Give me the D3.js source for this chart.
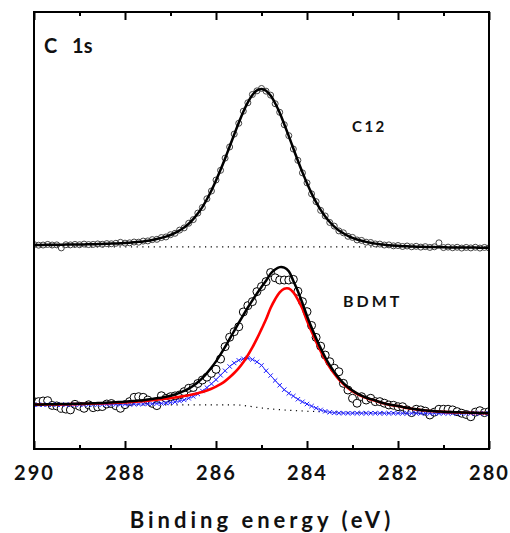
<!DOCTYPE html>
<html><head><meta charset="utf-8">
<script src="https://cdn.jsdelivr.net/npm/d3@7"></script>
<style>
body{margin:0;background:#fff}
text{font-family:Lato,"Open Sans",sans-serif;font-weight:700;fill:#111}
</style>
</head><body><svg id="c" width="510" height="533"></svg>
<script>
// Binding energy grid (eV), 0.1 eV steps
const energy = [290.0,289.9,289.8,289.7,289.6,289.5,289.4,289.3,289.2,289.1,
289.0,288.9,288.8,288.7,288.6,288.5,288.4,288.3,288.2,288.1,
288.0,287.9,287.8,287.7,287.6,287.5,287.4,287.3,287.2,287.1,
287.0,286.9,286.8,286.7,286.6,286.5,286.4,286.3,286.2,286.1,
286.0,285.9,285.8,285.7,285.6,285.5,285.4,285.3,285.2,285.1,
285.0,284.9,284.8,284.7,284.6,284.5,284.4,284.3,284.2,284.1,
284.0,283.9,283.8,283.7,283.6,283.5,283.4,283.3,283.2,283.1,
283.0,282.9,282.8,282.7,282.6,282.5,282.4,282.3,282.2,282.1,
282.0,281.9,281.8,281.7,281.6,281.5,281.4,281.3,281.2,281.1,
281.0,280.9,280.8,280.7,280.6,280.5,280.4,280.3,280.2,280.1,280.0];

// C12 spectrum (upper, offset) - measured points and fit
const c12Data = [0.9,0.5,0.6,1.0,0.6,0.7,-1.2,0.8,0.7,1.0,
0.8,1.2,0.9,1.0,1.3,1.1,1.5,1.4,1.7,2.3,
1.8,2.0,2.5,2.4,3.1,3.2,4.0,4.2,5.3,5.7,
7.1,8.0,10.0,11.4,14.3,16.6,20.7,24.2,29.7,34.6,
41.5,47.6,55.3,62.3,70.4,77.2,84.8,90.1,95.3,97.6,
99.1,97.4,94.9,89.5,84.1,76.3,69.4,61.0,53.9,46.0,
39.7,32.8,27.9,22.4,18.9,14.8,12.5,9.5,8.3,6.1,
5.4,3.8,3.5,2.4,2.2,1.3,1.2,0.6,0.7,0.1,
0.3,-0.3,0.0,-0.5,-0.2,-0.7,-0.4,-0.9,-0.5,2.0,
-1.0,-0.7,-1.1,-0.8,-1.3,-0.9,-1.2,-0.8,-1.3,-0.9,-1.2];
const c12Fit = [0.7,0.7,0.7,0.8,0.8,0.8,0.8,0.9,0.9,0.9,
1.0,1.0,1.1,1.1,1.2,1.3,1.4,1.5,1.6,1.7,
1.9,2.1,2.3,2.6,2.9,3.3,3.8,4.4,5.1,5.9,
6.9,8.2,9.8,11.6,14.0,16.9,20.4,24.5,29.4,34.9,
41.2,47.9,55.0,62.6,70.1,77.5,84.5,90.4,95.0,97.9,
98.8,97.7,94.6,89.8,83.8,76.6,69.1,61.3,53.6,46.3,
39.4,33.1,27.6,22.7,18.6,15.1,12.2,9.8,8.0,6.4,
5.1,4.1,3.3,2.6,2.0,1.5,1.1,0.8,0.5,0.3,
0.1,-0.1,-0.2,-0.3,-0.4,-0.5,-0.6,-0.7,-0.7,-0.8,
-0.8,-0.9,-0.9,-0.9,-1.0,-1.0,-1.0,-1.0,-1.1,-1.1,-1.1];
const c12BaseE = [290, 280];
const c12BaseV = [-0.6, -0.6];
const c12Offset = 100;

// BDMT spectrum (lower) - measured points, total fit, two components
const bdmtData = [2.1,2.1,2.5,2.7,-0.3,-0.6,-2.1,-2.6,-3.1,0.4,
-0.8,-2.1,0.1,-1.7,-1.2,-1.0,0.6,0.9,-0.5,-2.1,
0.2,2.1,4.8,5.2,4.8,3.1,1.0,-0.4,5.8,4.2,
5.2,5.7,6.3,8.4,10.5,11.0,13.5,15.7,17.5,19.9,
22.4,28.9,36.7,42.6,46.1,49.2,58.5,62.5,65.0,71.3,
74.5,77.6,83.3,80.0,78.6,78.6,78.6,79.0,71.5,65.0,
58.7,50.0,42.5,37.0,31.4,27.2,23.1,20.9,13.6,9.4,
4.2,1.1,5.2,3.1,4.2,2.1,2.1,1.1,0.0,-0.2,
-1.1,-1.1,-3.1,-4.8,-2.7,-3.1,-3.9,-6.3,-4.5,-2.7,
-2.7,-2.7,-3.1,-4.2,-5.2,-6.0,-7.4,-4.5,-3.6,-4.8,-4.2];
const bdmtFit = [0.3,0.3,0.35,0.42,0.43,0.5,0.56,0.62,0.68,0.74,
0.8,0.92,0.99,1.11,1.18,1.3,1.45,1.57,1.75,1.87,
2.05,2.27,2.5,2.75,3.0,3.4,3.8,4.2,4.6,5.15,
5.8,6.6,7.7,8.8,10.3,12.1,14.3,16.9,20.0,23.5,
27.4,31.8,36.5,41.6,46.6,51.6,56.5,61.3,65.8,70.1,
74.2,78.1,82.5,85.2,86.7,86.4,84.1,78.0,71.5,64.0,
56.0,48.7,42.0,35.75,30.0,25.0,20.7,16.9,13.8,11.2,
9.1,7.3,5.9,4.7,3.65,2.8,1.85,1.0,0.3,-0.2,
-0.6,-1.2,-1.8,-2.3,-2.7,-3.1,-3.4,-3.7,-3.9,-4.1,
-4.25,-4.4,-4.5,-4.6,-4.7,-4.8,-4.9,-4.95,-5.0,-5.05,-5.1];
const bdmtPeakRed = [0.2,0.2,0.25,0.3,0.3,0.35,0.4,0.45,0.5,0.55,
0.6,0.7,0.75,0.85,0.9,1.0,1.1,1.2,1.35,1.45,
1.6,1.8,2.0,2.2,2.4,2.7,3.0,3.3,3.6,3.95,
4.3,4.7,5.2,5.6,6.1,6.7,7.4,8.1,9.1,10.2,
11.5,13.1,15.0,17.4,20.1,23.2,26.9,31.3,36.2,41.7,
47.7,53.9,61.0,66.5,70.8,73.1,73.2,70.8,66.3,60.5,
53.0,46.3,39.8,33.85,28.5,23.75,19.7,16.15,13.2,10.75,
8.7,7.0,5.6,4.45,3.4,2.6,1.7,0.9,0.2,-0.3,
-0.7,-1.3,-1.9,-2.4,-2.8,-3.2,-3.5,-3.8,-4.0,-4.2,
-4.35,-4.5,-4.6,-4.7,-4.8,-4.9,-5.0,-5.05,-5.1,-5.15,-5.2];
const bdmtPeakBlue = [0.1,0.1,0.1,0.12,0.13,0.15,0.16,0.17,0.18,0.19,
0.2,0.22,0.24,0.26,0.28,0.3,0.35,0.37,0.4,0.42,
0.45,0.47,0.5,0.55,0.6,0.7,0.8,0.9,1.0,1.2,
1.5,1.9,2.5,3.2,4.2,5.4,6.9,8.8,10.9,13.3,
15.9,18.7,21.5,24.2,26.4,28.1,29.1,29.3,28.6,27.1,
24.9,21.5,18.5,15.4,12.4,9.6,7.3,5.6,3.6,2.0,
0.6,-0.7,-2.0,-3.1,-4.0,-4.6,-4.95,-5.1,-5.15,-5.2,
-5.2,-5.2,-5.21,-5.21,-5.22,-5.22,-5.22,-5.23,-5.23,-5.23,
-5.24,-5.24,-5.24,-5.25,-5.25,-5.25,-5.26,-5.26,-5.26,-5.27,
-5.27,-5.27,-5.28,-5.28,-5.28,-5.29,-5.29,-5.29,-5.3,-5.3,-5.3];
const bdmtBaseE = [290, 285.5, 285.3, 285.0, 284.7, 284.4, 284.0, 283.5, 282.0, 280];
const bdmtBaseV = [0, 0, -0.7, -1.9, -2.75, -3.35, -3.95, -4.5, -4.9, -5.3];

const xMajorTicks = [290, 288, 286, 284, 282, 280];
const xMinorTicks = [289, 287, 285, 283, 281];
const yDomain = [-27.7, 247.2];

const svg = d3.select("#c");
const m = {l: 34, r: 489, t: 12, b: 449};
const x = d3.scaleLinear().domain([290, 280]).range([m.l, m.r]);
const y = d3.scaleLinear().domain(yDomain).range([m.b, m.t]);

svg.append("defs").append("clipPath").attr("id", "clip")
  .append("rect").attr("x", m.l).attr("y", m.t).attr("width", m.r - m.l).attr("height", m.b - m.t);
const g = svg.append("g").attr("clip-path", "url(#clip)");

const zip = (xs, ys, off = 0) => xs.map((e, i) => [e, ys[i] + off]);
const line = d3.line().x(d => x(d[0])).y(d => y(d[1])).curve(d3.curveCatmullRom.alpha(0.5));
const lineLin = d3.line().x(d => x(d[0])).y(d => y(d[1]));

// baselines (dotted)
g.append("path").attr("d", lineLin(zip(c12BaseE, c12BaseV, c12Offset)))
  .attr("fill", "none").attr("stroke", "#000").attr("stroke-width", 1.2).attr("stroke-dasharray", "1.2,4.5");
g.append("path").attr("d", lineLin(zip(bdmtBaseE, bdmtBaseV)))
  .attr("fill", "none").attr("stroke", "#000").attr("stroke-width", 1.2).attr("stroke-dasharray", "1.2,4.5");

// upper: circles then fit
g.append("g").selectAll("circle").data(zip(energy, c12Data, c12Offset)).join("circle")
  .attr("cx", d => x(d[0])).attr("cy", d => y(d[1])).attr("r", 3)
  .attr("fill", "none").attr("stroke", "#444").attr("stroke-width", 1);
g.append("path").attr("d", line(zip(energy, c12Fit, c12Offset)))
  .attr("fill", "none").attr("stroke", "#000").attr("stroke-width", 2.5);

// lower: circles
g.append("g").selectAll("circle").data(zip(energy, bdmtData)).join("circle")
  .attr("cx", d => x(d[0])).attr("cy", d => y(d[1])).attr("r", 4)
  .attr("fill", "#fff").attr("stroke", "#000").attr("stroke-width", 1);

// blue component: thin line + crosses
const blue = zip(energy, bdmtPeakBlue);
g.append("path").attr("d", line(blue)).attr("fill", "none").attr("stroke", "#3333ff").attr("stroke-width", 0.8);
const cs = 2.2;
g.append("g").selectAll("path").data(blue).join("path")
  .attr("d", d => `M${x(d[0]) - cs},${y(d[1]) - cs}L${x(d[0]) + cs},${y(d[1]) + cs}M${x(d[0]) - cs},${y(d[1]) + cs}L${x(d[0]) + cs},${y(d[1]) - cs}`)
  .attr("stroke", "#2222ff").attr("stroke-width", 1).attr("fill", "none");

// red component
g.append("path").attr("d", line(zip(energy, bdmtPeakRed)))
  .attr("fill", "none").attr("stroke", "#ff0000").attr("stroke-width", 2.6);
// total fit
g.append("path").attr("d", line(zip(energy, bdmtFit)))
  .attr("fill", "none").attr("stroke", "#000").attr("stroke-width", 2.5);

// frame
svg.append("rect").attr("x", m.l).attr("y", m.t).attr("width", m.r - m.l).attr("height", m.b - m.t)
  .attr("fill", "none").attr("stroke", "#000").attr("stroke-width", 2);

// axes
const fmt = d3.format("d");
const axB = svg.append("g").attr("transform", `translate(0,${m.b})`)
  .call(d3.axisBottom(x).tickValues(xMajorTicks).tickSize(-8).tickPadding(17).tickFormat(fmt));
const axBm = svg.append("g").attr("transform", `translate(0,${m.b})`)
  .call(d3.axisBottom(x).tickValues(xMinorTicks).tickSize(-4).tickFormat(""));
const axT = svg.append("g").attr("transform", `translate(0,${m.t})`)
  .call(d3.axisTop(x).tickValues(xMajorTicks).tickSize(-8).tickFormat(""));
const axTm = svg.append("g").attr("transform", `translate(0,${m.t})`)
  .call(d3.axisTop(x).tickValues(xMinorTicks).tickSize(-4).tickFormat(""));
[axB, axBm, axT, axTm].forEach(a => {
  a.select(".domain").remove();
  a.selectAll("line").attr("stroke", "#000").attr("stroke-width", 2);
});
axB.selectAll("text").attr("font-size", 20).attr("font-family", "Lato, sans-serif")
  .attr("font-weight", 700).attr("letter-spacing", "2px").attr("fill", "#111");

// labels
svg.append("text").attr("x", 44).attr("y", 53).attr("font-size", 20)
  .style("word-spacing", "10px").text("C 1s");
svg.append("text").attr("x", 352).attr("y", 131.5).attr("font-size", 15)
  .attr("letter-spacing", "2.5px").text("C12");
svg.append("text").attr("x", 343).attr("y", 306.5).attr("font-size", 16)
  .attr("letter-spacing", "3px").text("BDMT");
svg.append("text").attr("x", 262).attr("y", 528).attr("font-size", 22)
  .attr("text-anchor", "middle").attr("letter-spacing", "4px").text("Binding energy (eV)");
</script>
</body></html>
